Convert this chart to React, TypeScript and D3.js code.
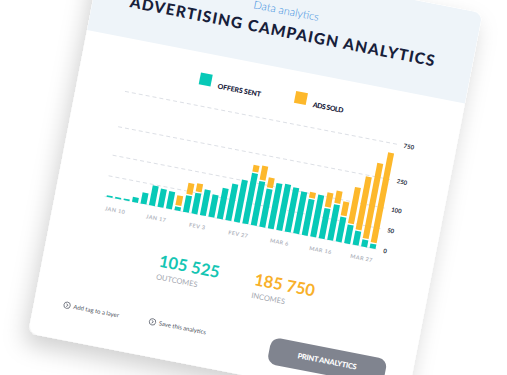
import React from 'react';
import * as d3 from 'd3';

// values (one bar per day, stacked)
const offersSent = [4, 4, 4, 12, 27, 48, 44, 42, 9, 40, 50, 62, 54, 74, 88, 104, 148, 114, 92, 121, 125, 116, 103, 87, 103, 73, 86, 60, 45, 34, 17, 11];
const adsSold = [0, 0, 0, 0, 0, 0, 0, 0, 27, 30, 23, 0, 0, 0, 0, 0, 42, 81, 50, 0, 0, 0, 0, 22, 0, 51, 56, 37, 133, 209, 429, 606];
const dateLabels = ['JAN 10', 'JAN 17', 'FEV 3', 'FEV 27', 'MAR 6', 'MAR 16', 'MAR 27'];
const yTicks = [0, 50, 100, 250, 750];
const legendLabels = ['OFFERS SENT', 'ADS SOLD'];
const statValues = ['105 525', '185 750'];
const statLabels = ['OUTCOMES', 'INCOMES'];
const linkLabels = ['Add tag to a layer', 'Save this analytics'];

const CYAN = '#07c9b7';
const YELLOW = '#fdb82b';
const NAVY = '#17203a';
const FONT = "Lato, 'Open Sans', sans-serif";

const App = () => {
  const width = 507;
  const height = 375;
  const cardW = 385;

  // card is drawn flat then rotated, the local origin is the header's bottom-left corner
  const x = d3
    .scaleBand<number>()
    .domain(d3.range(offersSent.length))
    .range([49.7, 326.3])
    .paddingInner(0.3)
    .paddingOuter(0.15);

  // the axis is not linear in the picture, so a piecewise scale
  const y = d3.scaleLinear().domain(yTicks).range([160, 139, 118, 89, 53]);

  const xLabel = d3.scalePoint<string>().domain(dateLabels).range([62, 313]);
  const legendX = d3.scalePoint<string>().domain(legendLabels).range([120, 217]);
  const statX = d3.scalePoint<string>().domain(statValues).range([115, 212]);
  const linkX = d3.scalePoint<string>().domain(linkLabels).range([33, 120]);

  return (
    <svg
      width={width}
      height={height}
      style={{ position: 'absolute', left: 0, top: 0, background: '#fff' }}
      fontFamily={FONT}
    >
      <defs>
        <filter id="shadow" x="-30%" y="-30%" width="160%" height="160%">
          <feDropShadow dx="-3" dy="11" stdDeviation="11" floodColor="#000" floodOpacity="0.18" />
        </filter>
        <clipPath id="cardClip">
          <rect x={0} y={-92} width={cardW} height={401} rx={9} />
        </clipPath>
      </defs>

      <g transform="translate(87,30) rotate(11)">
        <rect x={0} y={-92} width={cardW} height={401} rx={9} fill="#fff" filter="url(#shadow)" />
        <g clipPath="url(#cardClip)">
          <rect x={0} y={-92} width={cardW} height={92} fill="#eef4f9" />
        </g>

        {/* header */}
        <text x={192} y={-53} textAnchor="middle" fontSize={11} fontWeight={300} fill="#3a8ee0">
          Data analytics
        </text>
        <text
          x={192}
          y={-30.5}
          textAnchor="middle"
          fontSize={15.5}
          fontWeight={900}
          fill={NAVY}
          textLength={310}
          lengthAdjust="spacing"
        >
          ADVERTISING CAMPAIGN ANALYTICS
        </text>

        {/* legend */}
        {legendLabels.map((d, i) => (
          <g key={d}>
            <rect x={legendX(d)} y={20} width={12} height={12} fill={i === 0 ? CYAN : YELLOW} />
            <text
              x={(legendX(d) as number) + 19}
              y={32.5}
              fontSize={7}
              fontWeight={900}
              fill={NAVY}
              textLength={i === 0 ? 44 : 31}
              lengthAdjust="spacing"
            >
              {d}
            </text>
          </g>
        ))}

        {/* grid + y labels */}
        {yTicks.map((t) => (
          <g key={t}>
            <line
              x1={49}
              x2={327}
              y1={y(t)}
              y2={y(t)}
              stroke={t === 0 ? '#e4e7ec' : '#d6dae1'}
              strokeWidth={0.8}
              strokeDasharray="4 3"
            />
            <text x={333} y={y(t) + 2.2} fontSize={6} fontWeight={700} fill="#2a3043">
              {t}
            </text>
          </g>
        ))}

        {/* bars */}
        {offersSent.map((v, i) => {
          const bx = x(i) as number;
          const bw = x.bandwidth();
          const total = v + adsSold[i];
          return (
            <g key={i}>
              <rect x={bx} y={y(v)} width={bw} height={y(0) - y(v)} fill={CYAN} />
              {adsSold[i] > 0 && (
                <rect x={bx} y={y(total)} width={bw} height={Math.max(0, y(v) - y(total) - 1.4)} fill={YELLOW} />
              )}
            </g>
          );
        })}

        {/* x labels */}
        {dateLabels.map((d) => (
          <text
            key={d}
            x={xLabel(d)}
            y={173.5}
            textAnchor="middle"
            fontSize={5.5}
            fontWeight={700}
            fill="#b2b6c0"
            letterSpacing={0.4}
          >
            {d}
          </text>
        ))}

        {/* totals */}
        {statValues.map((d, i) => (
          <g key={d}>
            <text x={statX(d)} y={218.5} fontSize={16.5} fontWeight={700} fill={i === 0 ? '#14c5b3' : '#f8b02a'}>
              {d}
            </text>
            <text x={statX(d)} y={231.5} fontSize={7.5} fontWeight={400} fill="#a3a7b0">
              {statLabels[i]}
            </text>
          </g>
        ))}

        {/* links */}
        {linkLabels.map((d) => {
          const cx = linkX(d) as number;
          return (
            <g key={d}>
              <circle cx={cx} cy={274} r={3.2} fill="none" stroke="#4d5260" strokeWidth={0.7} />
              <path
                d={`M${cx - 0.7},${272.5} L${cx + 0.8},${274} L${cx - 0.7},${275.5}`}
                fill="none"
                stroke="#4d5260"
                strokeWidth={0.7}
              />
              <text x={cx + 6.5} y={276.2} fontSize={6} fill="#4d5260">
                {d}
              </text>
            </g>
          );
        })}

        {/* button */}
        <rect x={240} y={266} width={118} height={27} rx={9} fill="#80848f" />
        <text
          x={299}
          y={282}
          textAnchor="middle"
          fontSize={7.5}
          fontWeight={900}
          fill="#fff"
          textLength={60}
          lengthAdjust="spacing"
        >
          PRINT ANALYTICS
        </text>
      </g>
    </svg>
  );
};

export default App;
